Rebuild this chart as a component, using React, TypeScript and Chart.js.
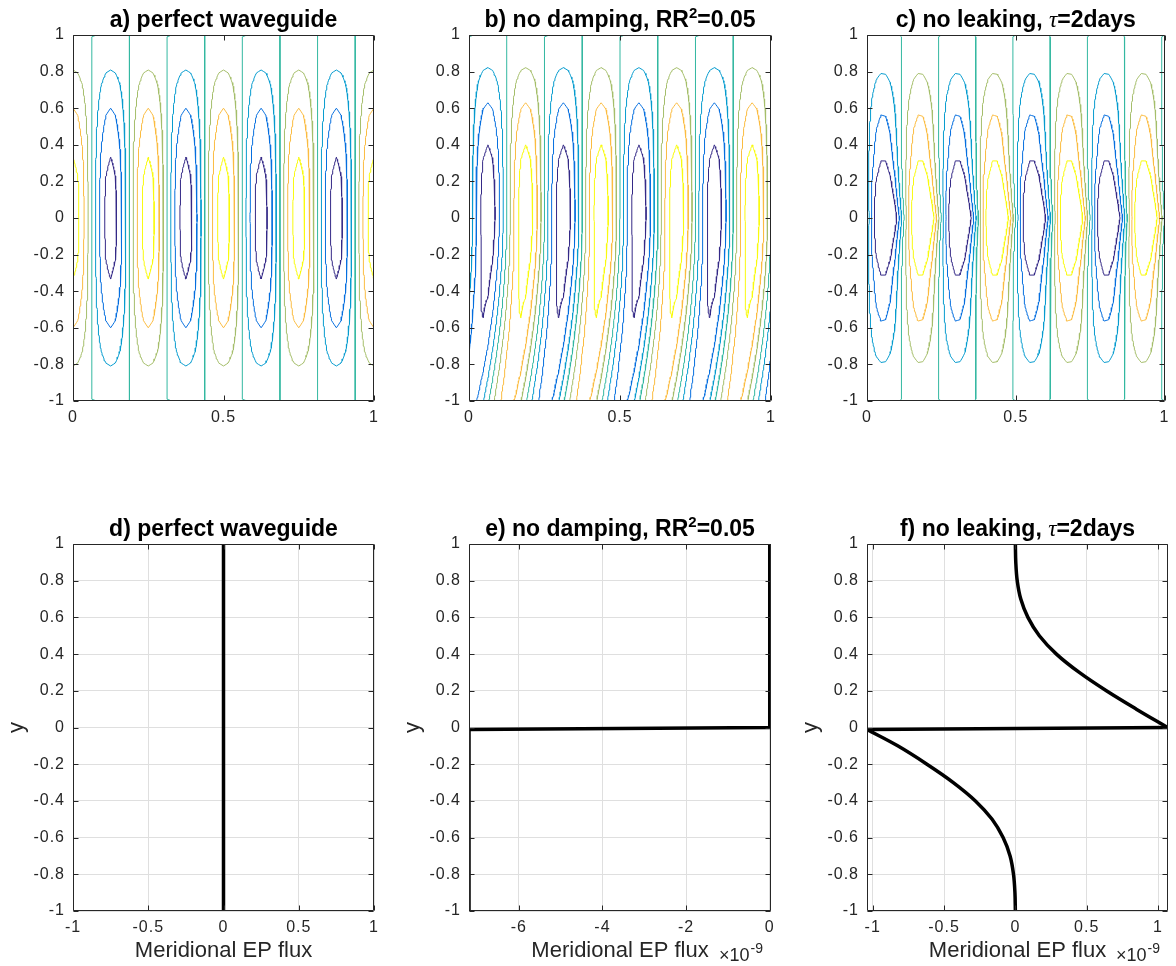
import React, { useEffect, useRef } from "react";
import { Chart, registerables } from "chart.js";

Chart.register(...registerables);

// ---------------- data ----------------
const yTicks = [-1, -0.8, -0.6, -0.4, -0.2, 0, 0.2, 0.4, 0.6, 0.8, 1];
const xTicksContour = [0, 0.5, 1];
const xTicksD = [-1, -0.5, 0, 0.5, 1];
const xTicksE = [-6, -4, -2, 0];
const xTicksF = [-1, -0.5, 0, 0.5, 1];
const xRangeContour = [0, 1];
const xRangeD = [-1, 1];
const xRangeE = [-7.19, 0.03];
const xRangeF = [-1.04, 1.07];
const yRange = [-1, 1];

// contour levels of the wave field (7 levels)
const contourLevels = [-0.866, -0.588, -0.296, 0, 0.296, 0.588, 0.866];
// zonal wavenumber of the pattern across x in [0, 1]
const zonalWavenumber = [4];
// sampling grid of the field: [start, end, intervals]
const fieldGridX = [0, 1, 64];
const fieldGridY = [-1, 1, 200];

// a) perfect waveguide: amplitude, meridional wavenumber
const waveguideA = [1.0, 1.5708];
// b) north of y=0 standing mode [amplitude, meridional wavenumber]
const waveguideB = [1.07, 1.5708];
// b) south of y=0 leaking wave: amplitude a0 - a1*|y|, phase p1*|y| + p2*y^2
const leakAmpB = [1.07, 0.37];
const leakPhaseB = [0.12, 1.38];
// c) amplitude profile against |y|
const profileYC = [0, 0.1, 0.2, 0.3, 0.4, 0.5, 0.6, 0.7, 0.8, 0.9, 1.0];
const profileAmpC = [1.52, 1.28, 1.08, 0.9, 0.78, 0.67, 0.55, 0.42, 0.285, 0.145, 0];
// c) phase: p0 + p1 * (1 - exp(-|y| / p2))
const phaseC = [0.0, 0.25, 0.2];

// d) perfect waveguide flux
const fluxDX = [0, 0];
const fluxDY = [-1, 1];
// e) no damping flux (x 1e-9)
const fluxEX = [0, 0, -7.19, -7.19];
const fluxEY = [1, 0, -0.011, -1];
// f) no leaking flux (x 1e-9)
const fluxFUpperY = [1, 0.9, 0.8, 0.7, 0.6, 0.5, 0.4, 0.3, 0.2, 0.1, 0];
const fluxFUpperX = [0, 0.003, 0.013, 0.038, 0.088, 0.168, 0.288, 0.448, 0.638, 0.848, 1.068];
const fluxFLowerY = [-0.011, -0.1, -0.2, -0.3, -0.4, -0.5, -0.6, -0.7, -0.8, -0.9, -1];
const fluxFLowerX = [-1.04, -0.825, -0.62, -0.435, -0.28, -0.163, -0.086, -0.037, -0.013, -0.003, 0];

// ---------------- style ----------------
const FONT = "'Liberation Sans', Arial, Helvetica, sans-serif";
const SERIF = "'Liberation Serif', 'Times New Roman', serif";
const AXIS_COLOR = "rgb(38,38,38)";
const GRID_COLOR = "rgb(223,223,223)";
const contourColors = [
  "rgb(53,42,135)",
  "rgb(6,111,223)",
  "rgb(7,156,207)",
  "rgb(51,184,161)",
  "rgb(165,190,107)",
  "rgb(251,188,65)",
  "rgb(249,251,14)",
];

// ---------------- helpers ----------------
type Pt = { x: number; y: number };

function linspace(a: number, b: number, n: number): number[] {
  const out: number[] = [];
  for (let i = 0; i <= n; i++) out.push(a + ((b - a) * i) / n);
  return out;
}

function monotoneInterp(xs: number[], ys: number[]) {
  const n = xs.length;
  const d: number[] = [];
  const m: number[] = [];
  for (let i = 0; i < n - 1; i++) d.push((ys[i + 1] - ys[i]) / (xs[i + 1] - xs[i]));
  m.push(d[0]);
  for (let i = 1; i < n - 1; i++) m.push(d[i - 1] * d[i] <= 0 ? 0 : (d[i - 1] + d[i]) / 2);
  m.push(d[n - 2]);
  for (let i = 0; i < n - 1; i++) {
    if (d[i] === 0) {
      m[i] = 0;
      m[i + 1] = 0;
      continue;
    }
    const a = m[i] / d[i];
    const b = m[i + 1] / d[i];
    const s = a * a + b * b;
    if (s > 9) {
      const t = 3 / Math.sqrt(s);
      m[i] = t * a * d[i];
      m[i + 1] = t * b * d[i];
    }
  }
  return (x: number) => {
    if (x <= xs[0]) return ys[0];
    if (x >= xs[n - 1]) return ys[n - 1];
    let i = 0;
    while (i < n - 2 && x > xs[i + 1]) i++;
    const h = xs[i + 1] - xs[i];
    const t = (x - xs[i]) / h;
    const t2 = t * t;
    const t3 = t2 * t;
    return (
      (2 * t3 - 3 * t2 + 1) * ys[i] +
      (t3 - 2 * t2 + t) * h * m[i] +
      (-2 * t3 + 3 * t2) * ys[i + 1] +
      (t3 - t2) * h * m[i + 1]
    );
  };
}

const K = 2 * Math.PI * zonalWavenumber[0];

function fieldA(x: number, y: number) {
  return waveguideA[0] * Math.sin(waveguideA[1] * (1 - Math.abs(y))) * Math.cos(K * x);
}

function fieldB(x: number, y: number) {
  let amp: number;
  let ph: number;
  if (y >= 0) {
    amp = waveguideB[0] * Math.sin(waveguideB[1] * (1 - y));
    ph = 0;
  } else {
    const s = -y;
    amp = leakAmpB[0] - leakAmpB[1] * s;
    ph = leakPhaseB[0] * s + leakPhaseB[1] * s * s;
  }
  return -amp * Math.sin(K * x + ph);
}

const ampC = monotoneInterp(profileYC, profileAmpC);
function fieldC(x: number, y: number) {
  const s = Math.abs(y);
  const amp = ampC(s);
  const ph = phaseC[0] + phaseC[1] * (1 - Math.exp(-s / phaseC[2]));
  return -amp * Math.sin(K * x + ph);
}

function contourPath(vals: Float64Array, xs: number[], ys: number[], level: number): Pt[] {
  const nx = xs.length;
  const ny = ys.length;
  const pos = new Map<number, Pt>();
  const adj = new Map<number, number[]>();
  const V = (i: number, j: number) => vals[j * nx + i];
  const H = (i: number, j: number) => j * nx + i;
  const VE = (i: number, j: number) => nx * ny + j * nx + i;
  const pt = (id: number, ax: number, ay: number, av: number, bx: number, by: number, bv: number) => {
    if (!pos.has(id)) {
      const t = (level - av) / (bv - av);
      pos.set(id, { x: ax + t * (bx - ax), y: ay + t * (by - ay) });
    }
    return id;
  };
  const link = (a: number, b: number) => {
    if (a < 0 || b < 0) return;
    if (!adj.has(a)) adj.set(a, []);
    if (!adj.has(b)) adj.set(b, []);
    adj.get(a)!.push(b);
    adj.get(b)!.push(a);
  };
  for (let j = 0; j < ny - 1; j++) {
    for (let i = 0; i < nx - 1; i++) {
      const v0 = V(i, j), v1 = V(i + 1, j), v2 = V(i + 1, j + 1), v3 = V(i, j + 1);
      const a0 = v0 >= level, a1 = v1 >= level, a2 = v2 >= level, a3 = v3 >= level;
      const code = (a0 ? 1 : 0) | (a1 ? 2 : 0) | (a2 ? 4 : 0) | (a3 ? 8 : 0);
      if (code === 0 || code === 15) continue;
      const x0 = xs[i], x1 = xs[i + 1], y0 = ys[j], y1 = ys[j + 1];
      let bottom = -1, right = -1, topE = -1, left = -1;
      if (a0 !== a1) bottom = pt(H(i, j), x0, y0, v0, x1, y0, v1);
      if (a1 !== a2) right = pt(VE(i + 1, j), x1, y0, v1, x1, y1, v2);
      if (a3 !== a2) topE = pt(H(i, j + 1), x0, y1, v3, x1, y1, v2);
      if (a0 !== a3) left = pt(VE(i, j), x0, y0, v0, x0, y1, v3);
      if (code === 5 || code === 10) {
        const center = (v0 + v1 + v2 + v3) / 4 >= level;
        if ((code === 5) === center) {
          link(bottom, right);
          link(topE, left);
        } else {
          link(left, bottom);
          link(right, topE);
        }
      } else {
        const c = [bottom, right, topE, left].filter((v) => v >= 0);
        if (c.length === 2) link(c[0], c[1]);
      }
    }
  }
  const out: Pt[] = [];
  const visited = new Set<number>();
  const walk = (start: number) => {
    let prev = -1;
    let cur = start;
    let steps = 0;
    while (steps++ < 1000000) {
      visited.add(cur);
      const p = pos.get(cur)!;
      out.push({ x: p.x, y: p.y });
      const nb = adj.get(cur)!;
      let next = -1;
      for (const n of nb) {
        if (n !== prev && !visited.has(n)) {
          next = n;
          break;
        }
      }
      if (next < 0) {
        if (cur !== start && prev !== start && nb.indexOf(start) >= 0) {
          const s = pos.get(start)!;
          out.push({ x: s.x, y: s.y });
        }
        break;
      }
      prev = cur;
      cur = next;
    }
    out.push({ x: NaN, y: NaN });
  };
  adj.forEach((nb, id) => {
    if (nb.length === 1 && !visited.has(id)) walk(id);
  });
  adj.forEach((_nb, id) => {
    if (!visited.has(id)) walk(id);
  });
  return out;
}

function contourDatasets(fn: (x: number, y: number) => number) {
  const xs = linspace(fieldGridX[0], fieldGridX[1], fieldGridX[2]);
  const ys = linspace(fieldGridY[0], fieldGridY[1], fieldGridY[2]);
  const vals = new Float64Array(xs.length * ys.length);
  for (let j = 0; j < ys.length; j++)
    for (let i = 0; i < xs.length; i++) vals[j * xs.length + i] = fn(xs[i], ys[j]);
  return contourLevels.map((lv, k) => ({
    data: contourPath(vals, xs, ys, lv),
    borderColor: contourColors[k],
    backgroundColor: contourColors[k],
    borderWidth: 1,
    pointRadius: 0,
    pointHoverRadius: 0,
    showLine: true,
    spanGaps: false,
    tension: 0,
    borderJoinStyle: "round",
  }));
}

function zip(xs: number[], ys: number[]): Pt[] {
  return xs.map((x, i) => ({ x, y: ys[i] }));
}

function fluxLine(data: Pt[], tension = 0) {
  return {
    data,
    borderColor: "#000000",
    backgroundColor: "#000000",
    borderWidth: 3.5,
    pointRadius: 0,
    pointHoverRadius: 0,
    showLine: true,
    tension,
    borderCapStyle: "round",
    borderJoinStyle: "round",
  };
}

// ---------------- titles ----------------
type Run = { text: string; font: string; dy?: number };
const TB = `bold 23px ${FONT}`;
const TSUP = `bold 15px ${FONT}`;
const TTAU = `italic 23px ${SERIF}`;

const titleWave = (p: string): Run[] => [{ text: `${p}) perfect waveguide`, font: TB }];
const titleDamp = (p: string): Run[] => [
  { text: `${p}) no damping, RR`, font: TB },
  { text: "2", font: TSUP, dy: -9 },
  { text: "=0.05", font: TB },
];
const titleLeak = (p: string): Run[] => [
  { text: `${p}) no leaking, `, font: TB },
  { text: "\u03C4", font: TTAU },
  { text: "=2days", font: TB },
];

const fmt = (v: any) => {
  const n = Math.round(Number(v) * 100) / 100;
  return n === 0 ? "0" : String(n);
};

const framePlugin = {
  id: "frame",
  afterDatasetsDraw(chart: any) {
    (chart.ctx as any).letterSpacing = "1px";
  },
  afterDraw(chart: any, _args: any, opts: any) {
    const ctx = chart.ctx as CanvasRenderingContext2D;
    (ctx as any).letterSpacing = "0px";
    const { left, right, top, bottom } = chart.chartArea;
    const L = Math.round(left) + 0.5;
    const R = Math.round(right) - 0.5;
    const T = Math.round(top) + 0.5;
    const B = Math.round(bottom) - 0.5;
    ctx.save();
    ctx.strokeStyle = AXIS_COLOR;
    ctx.lineWidth = 1;
    ctx.beginPath();
    ctx.rect(L, T, R - L, B - T);
    const tl = 5;
    const xs = chart.scales.x;
    const ys = chart.scales.y;
    for (const t of xs.ticks) {
      const px = Math.round(xs.getPixelForValue(t.value)) + 0.5;
      ctx.moveTo(px, B);
      ctx.lineTo(px, B - tl);
      ctx.moveTo(px, T);
      ctx.lineTo(px, T + tl);
    }
    for (const t of ys.ticks) {
      const py = Math.round(ys.getPixelForValue(t.value)) + 0.5;
      ctx.moveTo(L, py);
      ctx.lineTo(L + tl, py);
      ctx.moveTo(R, py);
      ctx.lineTo(R - tl, py);
    }
    ctx.stroke();

    // title
    const runs: Run[] = opts.title || [];
    ctx.fillStyle = "#000000";
    ctx.textBaseline = "alphabetic";
    ctx.textAlign = "left";
    let total = 0;
    for (const r of runs) {
      ctx.font = r.font;
      total += ctx.measureText(r.text).width;
    }
    let x = (left + right) / 2 - total / 2;
    const base = top - 8;
    for (const r of runs) {
      ctx.font = r.font;
      ctx.fillText(r.text, x, base + (r.dy || 0));
      x += ctx.measureText(r.text).width;
    }

    // exponent
    if (opts.exponent) {
      ctx.fillStyle = AXIS_COLOR;
      ctx.font = `18px ${FONT}`;
      const ex = right - 52;
      ctx.fillText("\u00D710", ex, bottom + 50);
      const w = ctx.measureText("\u00D710").width;
      ctx.font = `14px ${FONT}`;
      ctx.fillText("-9", ex + w + 1, bottom + 42);
    }
    ctx.restore();
  },
};

// ---------------- panels ----------------
type Spec = {
  id: string;
  col: number;
  row: number;
  datasets: () => any[];
  xRange: number[];
  xTicks: number[];
  grid: boolean;
  title: Run[];
  xTitle?: string;
  yTitle?: string;
  exponent?: boolean;
};

const PLOT_LEFT = [73, 469, 867];
const PLOT_RIGHT = [374, 771, 1168];
const CANVAS_RIGHT = [392, 790, 1176];
const ROWS = [
  { canvasTop: 0, canvasBottom: 470, plotTop: 35, plotBottom: 401 },
  { canvasTop: 490, canvasBottom: 966, plotTop: 544, plotBottom: 911 },
];

const PANELS: Spec[] = [
  { id: "a", col: 0, row: 0, datasets: () => contourDatasets(fieldA), xRange: xRangeContour, xTicks: xTicksContour, grid: false, title: titleWave("a") },
  { id: "b", col: 1, row: 0, datasets: () => contourDatasets(fieldB), xRange: xRangeContour, xTicks: xTicksContour, grid: false, title: titleDamp("b") },
  { id: "c", col: 2, row: 0, datasets: () => contourDatasets(fieldC), xRange: xRangeContour, xTicks: xTicksContour, grid: false, title: titleLeak("c") },
  {
    id: "d", col: 0, row: 1,
    datasets: () => [fluxLine(zip(fluxDX, fluxDY))],
    xRange: xRangeD, xTicks: xTicksD, grid: true, title: titleWave("d"),
    xTitle: "Meridional EP flux", yTitle: "y",
  },
  {
    id: "e", col: 1, row: 1,
    datasets: () => [fluxLine(zip(fluxEX, fluxEY))],
    xRange: xRangeE, xTicks: xTicksE, grid: true, title: titleDamp("e"),
    xTitle: "Meridional EP flux", yTitle: "y", exponent: true,
  },
  {
    id: "f", col: 2, row: 1,
    datasets: () => {
      const up = zip(fluxFUpperX, fluxFUpperY);
      const lo = zip(fluxFLowerX, fluxFLowerY);
      return [fluxLine(up, 0.35), fluxLine([up[up.length - 1], lo[0]]), fluxLine(lo, 0.35)];
    },
    xRange: xRangeF, xTicks: xTicksF, grid: true, title: titleLeak("f"),
    xTitle: "Meridional EP flux", yTitle: "y", exponent: true,
  },
];

function geometry(spec: Spec) {
  const row = ROWS[spec.row];
  const left = PLOT_LEFT[spec.col] - 73;
  const w = CANVAS_RIGHT[spec.col] - left;
  const h = row.canvasBottom - row.canvasTop;
  return {
    left,
    top: row.canvasTop,
    w,
    h,
    padR: CANVAS_RIGHT[spec.col] - PLOT_RIGHT[spec.col],
    padT: row.plotTop - row.canvasTop,
    xH: row.canvasBottom - row.plotBottom,
    yW: 73,
  };
}

function buildConfig(spec: Spec, g: ReturnType<typeof geometry>): any {
  const tickFont = { family: FONT, size: 16 };
  return {
    type: "scatter",
    data: { datasets: spec.datasets() },
    options: {
      responsive: false,
      maintainAspectRatio: false,
      animation: false,
      devicePixelRatio: 1,
      events: [],
      layout: { padding: { left: 0, right: g.padR, top: g.padT, bottom: 0 } },
      plugins: {
        legend: { display: false },
        tooltip: { enabled: false },
        title: { display: false },
        frame: { title: spec.title, exponent: !!spec.exponent },
      },
      scales: {
        x: {
          type: "linear",
          position: "bottom",
          min: spec.xRange[0],
          max: spec.xRange[1],
          afterFit: (s: any) => {
            s.height = g.xH;
          },
          afterBuildTicks: (s: any) => {
            s.ticks = spec.xTicks.map((v) => ({ value: v }));
          },
          ticks: {
            font: tickFont,
            color: AXIS_COLOR,
            padding: 7,
            maxRotation: 0,
            minRotation: 0,
            autoSkip: false,
            z: 1,
            callback: fmt,
          },
          grid: { display: spec.grid, color: GRID_COLOR, lineWidth: 1, drawTicks: false },
          border: { display: false },
          title: {
            display: !!spec.xTitle,
            text: spec.xTitle || "",
            font: { family: FONT, size: 22 },
            color: AXIS_COLOR,
            padding: { top: 0, bottom: 2 },
          },
        },
        y: {
          type: "linear",
          position: "left",
          min: yRange[0],
          max: yRange[1],
          afterFit: (s: any) => {
            s.width = g.yW;
          },
          afterBuildTicks: (s: any) => {
            s.ticks = yTicks.map((v) => ({ value: v }));
          },
          ticks: {
            font: tickFont,
            color: AXIS_COLOR,
            padding: 8,
            autoSkip: false,
            z: 1,
            callback: fmt,
          },
          grid: { display: spec.grid, color: GRID_COLOR, lineWidth: 1, drawTicks: false },
          border: { display: false },
          title: {
            display: !!spec.yTitle,
            text: spec.yTitle || "",
            font: { family: FONT, size: 22 },
            color: AXIS_COLOR,
            padding: { top: 4, bottom: 0 },
          },
        },
      },
    },
    plugins: [framePlugin],
  };
}

function Panel({ spec }: { spec: Spec }) {
  const ref = useRef<HTMLCanvasElement | null>(null);
  const g = geometry(spec);
  useEffect(() => {
    if (!ref.current) return;
    const chart = new Chart(ref.current, buildConfig(spec, g));
    return () => chart.destroy();
  }, []);
  return (
    <canvas
      ref={ref}
      width={g.w}
      height={g.h}
      style={{ position: "absolute", left: g.left, top: g.top, width: g.w, height: g.h }}
    />
  );
}

export default function App() {
  return (
    <div
      style={{
        position: "absolute",
        left: 0,
        top: 0,
        width: 1176,
        height: 966,
        background: "#ffffff",
        overflow: "hidden",
      }}
    >
      {PANELS.map((p) => (
        <Panel key={p.id} spec={p} />
      ))}
    </div>
  );
}
